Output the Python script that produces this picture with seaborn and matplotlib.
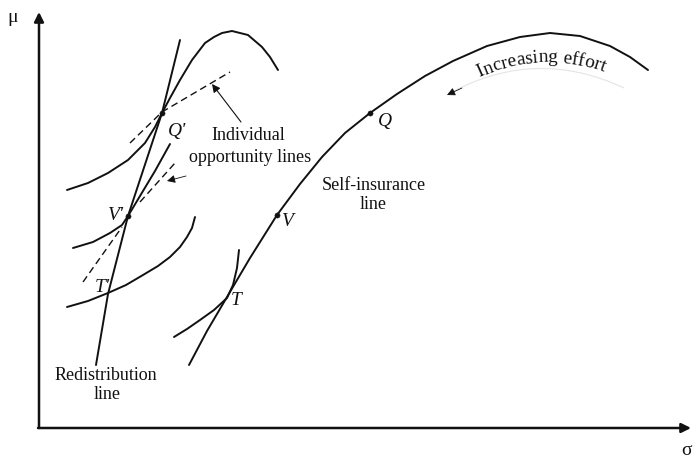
import numpy as np
import pandas as pd
import matplotlib
matplotlib.use("Agg")
import matplotlib.pyplot as plt
import seaborn as sns
from matplotlib.font_manager import FontProperties, findfont
from matplotlib.ft2font import FT2Font

# ---- data (pixel-space coordinates) ----
self_x = [189, 207, 227, 250, 277, 300, 322, 345, 370, 397, 425, 453, 487, 520, 550, 580, 610, 630, 648]
self_y = [365, 331, 297, 258, 215, 184, 157, 133, 113, 94, 76, 61, 46, 37, 33, 36, 46, 57, 70]

tcurve_x = [174, 187, 200, 214, 227, 233, 237, 239]
tcurve_y = [337, 329, 320, 310, 298, 285, 268, 250]

redis_x = [96, 108, 128, 162, 180]
redis_y = [365, 294, 216, 113, 40]

top_x = [67, 88, 108, 128, 145, 155, 162, 170, 180, 192, 205, 214, 222, 232, 248, 262, 270, 278]
top_y = [190, 183, 173, 160, 143, 127, 113, 98, 80, 60, 43, 37, 33, 31, 35, 47, 57, 70]

mid_x = [73, 93, 110, 122, 128, 140, 155, 170]
mid_y = [248, 242, 233, 225, 216, 196, 171, 144]

low_x = [67, 88, 108, 126, 143, 158, 170, 180, 187, 192, 195]
low_y = [307, 301, 293, 285, 275, 266, 257, 247, 237, 228, 217]

d1_x, d1_y = [130, 162, 230], [143, 112, 72]
d2_x, d2_y = [140, 175], [202, 163]
d3_x, d3_y = [83, 122], [282, 227]

dot_x = [370, 277, 162, 128]
dot_y = [113, 215, 113, 216]

point_labels = ["Q", "V", "T", "Q'", "V'", "T'"]
point_label_x = [385, 288, 236, 177, 116, 102]
point_label_y = [121, 221, 300, 131, 215, 287]

# ---- figure ----
sns.set_style("white")
plt.rcParams["font.family"] = ["Liberation Serif", "DejaVu Serif"]
fig = plt.figure(figsize=(6.96, 4.61), dpi=100)
ax = fig.add_axes([0, 0, 1, 1])
ax.set_xlim(0, 696)
ax.set_ylim(461, 0)
ax.axis("off")

ink = "#111111"
lw = 1.4

def curve(xs, ys, **kw):
    df = pd.DataFrame({"x": xs, "y": ys})
    sns.lineplot(data=df, x="x", y="y", sort=False, estimator=None, ax=ax,
                 color=ink, linewidth=kw.pop("linewidth", lw), **kw)

curve(self_x, self_y)
curve(tcurve_x, tcurve_y)
curve(redis_x, redis_y)
curve(top_x, top_y)
curve(mid_x, mid_y)
curve(low_x, low_y)
for dx, dy in [(d1_x, d1_y), (d2_x, d2_y), (d3_x, d3_y)]:
    curve(dx, dy, linewidth=1.0, linestyle=(0, (5, 3)))

sns.scatterplot(x=dot_x, y=dot_y, ax=ax, color=ink, s=14, edgecolor=ink, zorder=5)

# axes with arrows
ax.annotate("", xy=(39, 12), xytext=(39, 428),
            arrowprops=dict(arrowstyle="-|>", color=ink, lw=1.8, mutation_scale=14, shrinkA=0, shrinkB=0))
ax.annotate("", xy=(691, 428), xytext=(38, 428),
            arrowprops=dict(arrowstyle="-|>", color=ink, lw=1.8, mutation_scale=14, shrinkA=0, shrinkB=0))
ax.text(13, 18, "μ", fontsize=14, ha="center", va="center", color=ink)
ax.text(687, 450, "σ", fontsize=14, ha="center", va="center", color=ink)

# point labels
for s, x, y in zip(point_labels, point_label_x, point_label_y):
    ax.text(x, y, s, fontsize=14, style="italic", ha="center", va="center", color=ink)

# text labels
fs = 13
ax.text(248, 135, "Individual", fontsize=fs, ha="center", va="center", color=ink)
ax.text(250, 157, "opportunity lines", fontsize=fs, ha="center", va="center", color=ink)
ax.text(374, 185, "Self-insurance", fontsize=fs, ha="center", va="center", color=ink)
ax.text(373, 204, "line", fontsize=fs, ha="center", va="center", color=ink)
ax.text(106, 375, "Redistribution", fontsize=fs, ha="center", va="center", color=ink)
ax.text(107, 394, "line", fontsize=fs, ha="center", va="center", color=ink)

# annotation arrows
ax.annotate("", xy=(212, 84), xytext=(241, 122),
            arrowprops=dict(arrowstyle="-|>", color=ink, lw=0.8, mutation_scale=12, shrinkA=0, shrinkB=0))
ax.annotate("", xy=(167, 181), xytext=(186, 176),
            arrowprops=dict(arrowstyle="-|>", color=ink, lw=0.6, mutation_scale=12, shrinkA=0, shrinkB=0))
ax.annotate("", xy=(452, 92), xytext=(624, 88),
            arrowprops=dict(arrowstyle="-", color="#e4e4e4", lw=0.8, shrinkA=0, shrinkB=0,
                            connectionstyle="arc3,rad=0.25"))
ax.annotate("", xy=(447, 95), xytext=(462, 88),
            arrowprops=dict(arrowstyle="-|>", color=ink, lw=0.6, mutation_scale=12, shrinkA=0, shrinkB=0))

# curved text "Increasing effort" (characters placed along an arc using glyph advances)
text = "Increasing effort"
cx, cy, R = 548.0, 222.0, 160.0
fsize = 13.8
prop = FontProperties(family=["Liberation Serif"], size=fsize)
ft = FT2Font(findfont(prop))
ft.set_size(fsize, 100)
adv = []
for ch in text:
    g = ft.load_char(ord(ch))
    adv.append(g.linearHoriAdvance / 65536.0)
adv = np.array(adv)
starts = np.concatenate([[0.0], np.cumsum(adv)[:-1]])
total = adv.sum()
phi_c = np.degrees(np.arctan2(541 - cx, cy - 62))
for ch, s0, a in zip(text, starts, adv):
    if ch == " ":
        continue
    s_center = s0 + a / 2 - total / 2
    phi = phi_c + np.degrees(s_center / R)
    pr = np.radians(phi)
    x = cx + R * np.sin(pr)
    y = cy - R * np.cos(pr)
    ax.text(x, y, ch, fontproperties=prop, rotation=-phi, rotation_mode="anchor",
            ha="center", va="baseline", color=ink)

fig.savefig("out.png", dpi=100)
